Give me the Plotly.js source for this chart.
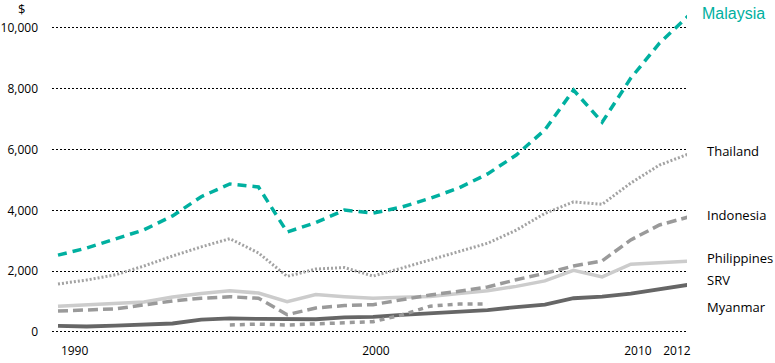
<!DOCTYPE html>
<html>
<head>
<meta charset="utf-8">
<script src="https://cdn.plot.ly/plotly-3.0.1.min.js"></script>
<style>html,body{margin:0;padding:0;background:#fff;}#chart{width:775px;height:363px;}</style>
</head>
<body>
<div id="chart"></div>
<script>
// ---- data ----
var years = [1990,1991,1992,1993,1994,1995,1996,1997,1998,1999,2000,2001,2002,2003,2004,2005,2006,2007,2008,2009,2010,2011,2012];
var malaysia    = [2530,2760,3060,3360,3820,4450,4870,4770,3290,3600,4010,3910,4110,4400,4740,5200,5820,6650,7960,6900,8350,9500,10390];
var thailand    = [1580,1710,1880,2170,2500,2800,3070,2600,1830,2070,2120,1840,2100,2370,2640,2920,3350,3900,4280,4200,4900,5490,5850];
var indonesia   = [690,720,760,890,1020,1110,1160,1110,570,790,870,900,1050,1220,1340,1480,1720,1930,2170,2340,3030,3520,3780];
var philippines = [850,890,950,990,1150,1270,1360,1280,1000,1230,1160,1110,1140,1170,1270,1360,1500,1680,2030,1810,2230,2270,2330];
var srv         = [null,null,null,null,null,null,230,260,230,260,310,340,560,850,920,920,null,null,null,null,null,null,null];
var myanmar     = [200,180,210,260,280,410,450,430,420,420,480,500,560,620,690,720,820,900,1110,1160,1260,1400,1550];
var seriesNames = ["Malaysia","Thailand","Indonesia","Philippines","SRV","Myanmar"];
var xTickText = ["1990","2000","2010","2012"];
var yTickVals = [0,2000,4000,6000,8000,10000];
var yTickText = ["0","2,000","4,000","6,000","8,000","10,000"];
var yUnit = "$";

// ---- layout geometry ----
var W = 775, H = 363;
var M = {l:52, r:88, t:10, b:29};
var plotW = W - M.l - M.r, plotH = H - M.t - M.b;
function px(x){ return (x - M.l) / plotW; }
function py(y){ return (H - M.b - y) / plotH; }

var FONT = '"Open Sans", "Noto Sans", sans-serif';

function tr(y, name, color, width, dash){
  return {x: years, y: y, name: name, type: 'scatter', mode: 'lines',
    line: {color: color, width: width, dash: dash}, connectgaps: false, hoverinfo: 'skip'};
}
var data = [
  tr(philippines, seriesNames[3], '#cccccc', 3.5, 'solid'),
  tr(indonesia, seriesNames[2], '#9a9a9a', 3.5, '10px,5px'),
  tr(myanmar, seriesNames[5], '#666666', 3.8, 'solid'),
  tr(srv, seriesNames[4], '#9a9a9a', 3.5, '5px,5px'),
  tr(thailand, seriesNames[1], '#a3a3a3', 3, '2px,2px'),
  tr(malaysia, seriesNames[0], '#00b0a0', 3.5, '9px,6px')
];

var labelPos = [
  {name: seriesNames[0], x: 700, y: 13, color: '#00b0a0', font: '"Liberation Sans", Arial, sans-serif', size: 16},
  {name: seriesNames[1], x: 705, y: 151},
  {name: seriesNames[2], x: 705, y: 215},
  {name: seriesNames[3], x: 705, y: 258},
  {name: seriesNames[4], x: 705, y: 280},
  {name: seriesNames[5], x: 705, y: 307}
];
var annotations = labelPos.map(function(l){
  return {text: l.name, xref: 'paper', yref: 'paper', x: px(l.x), y: py(l.y),
    xanchor: 'left', yanchor: 'middle', showarrow: false,
    font: {family: l.font || FONT, size: l.size || 13, color: l.color || '#000'}};
});
annotations.push({text: yUnit, xref: 'paper', yref: 'paper', x: px(21), y: py(9),
  xanchor: 'center', yanchor: 'middle', showarrow: false, font: {family: FONT, size: 13, color: '#000'}});

var x0 = 1990 - 6/28.64;
var layout = {
  width: W, height: H, margin: M, showlegend: false,
  paper_bgcolor: '#fff', plot_bgcolor: '#fff',
  font: {family: FONT, size: 12, color: '#000'},
  xaxis: {range: [x0, x0 + plotW/28.64], showgrid: false, zeroline: false, showline: false,
    tickmode: 'array', tickvals: [1990.58, 2001.1, 2010.25, 2011.61], ticktext: xTickText,
    ticks: '', ticklabelstandoff: 8, tickfont: {family: FONT, size: 12, color: '#000'}},
  yaxis: {range: [-66, -66 + plotH/0.0304], showgrid: true, griddash: '2px,2px', gridcolor: '#000', gridwidth: 1,
    zeroline: false, showline: false, tickmode: 'array', tickvals: yTickVals, ticktext: yTickText,
    ticks: '', ticklabelstandoff: 13, tickfont: {family: FONT, size: 12, color: '#000'}},
  annotations: annotations
};
Plotly.newPlot('chart', data, layout, {staticPlot: true, displayModeBar: false});
</script>
</body>
</html>
